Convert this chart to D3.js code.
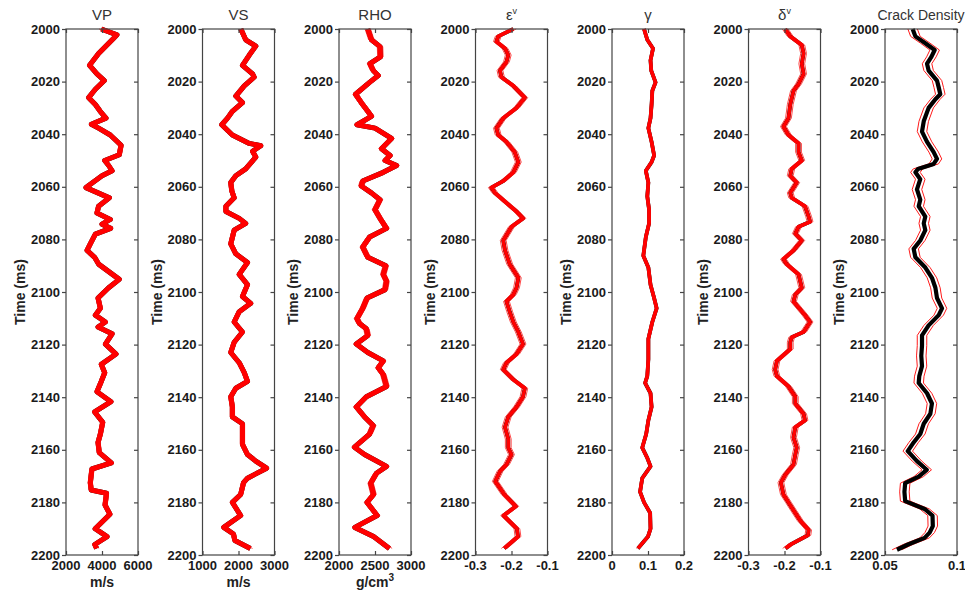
<!DOCTYPE html>
<html>
<head>
<meta charset="utf-8">
<script src="https://cdnjs.cloudflare.com/ajax/libs/d3/7.8.5/d3.min.js"></script>
<style>
    body { margin: 0; background: #fff; }
    #chart { width: 965px; height: 594px; }
    text { font-family: "Liberation Sans", Arial, sans-serif; }
</style>
</head>
<body>
<div id="chart"></div>
<script>
// Data: [time (ms), value]
const vpData = [
    [2000, 3960], [2002.2, 4830], [2003.5, 4650], [2009.3, 3810], [2013.8, 3310], [2017.1, 3720],
    [2019.6, 4130], [2022.9, 3630], [2026.1, 3260], [2028.7, 3630], [2031.3, 3900], [2033.9, 4220],
    [2036.2, 3410], [2037.7, 3810], [2040.3, 4460], [2044.2, 5060], [2047.8, 4960], [2050, 4150],
    [2051.9, 4370], [2053.9, 4560], [2055.8, 4000], [2060.3, 3110], [2064.2, 4410], [2067.4, 3810],
    [2070, 3720], [2072.4, 4460], [2074.2, 4000], [2075.8, 4480], [2078, 3630], [2081.7, 3350],
    [2084.2, 3170], [2086.8, 3590], [2089.4, 3810], [2095.2, 4960], [2098.4, 4370], [2102.3, 3780],
    [2106.2, 3910], [2108.8, 3630], [2111.4, 4190], [2113.3, 3780], [2115.9, 4560], [2119.8, 4190],
    [2123.6, 4780], [2127.5, 3960], [2130.7, 4150], [2134, 3960], [2137.9, 3720], [2141.7, 4500],
    [2145.6, 3590], [2149.5, 4040], [2154, 3910], [2157.2, 3780], [2161.1, 3850], [2165, 4520],
    [2167.3, 3440], [2172.5, 3350], [2175.3, 3400], [2176.5, 4250], [2181, 4170], [2184.5, 4440],
    [2190, 3620], [2193, 4280], [2196, 3600], [2197.5, 3700]
]
const vsData = [
    [2000, 2065], [2004.1, 2200], [2006.5, 2480], [2009.9, 2300], [2013.8, 2110], [2017.1, 2390],
    [2018.3, 2435], [2021.6, 2160], [2025.5, 1925], [2028, 2110], [2031.3, 1830], [2033.9, 1695],
    [2036.4, 1535], [2040.3, 1830], [2043.5, 2300], [2044.4, 2620], [2046.5, 2390], [2048.7, 2480],
    [2053.2, 2200], [2055.8, 1925], [2058.4, 1785], [2061.6, 1815], [2064.2, 1880], [2067.4, 1650],
    [2069.4, 1650], [2072, 2020], [2073.9, 2200], [2076.5, 1880], [2081.7, 1785], [2085.5, 1925],
    [2088.8, 2250], [2093.3, 2020], [2097.2, 2250], [2101.7, 2110], [2104.3, 2340], [2107.5, 2020],
    [2111.4, 1880], [2115.2, 2110], [2119.1, 1880], [2123, 1785], [2126.9, 2020], [2130.7, 2160],
    [2134, 2250], [2136.6, 1925], [2139.8, 1785], [2143.7, 1830], [2147.5, 1830], [2150.1, 2110],
    [2154, 2110], [2157.9, 2110], [2161.8, 2250], [2164.3, 2480], [2167, 2780], [2170.8, 2250],
    [2172.5, 2140], [2177, 2060], [2180, 1830], [2185, 2060], [2189.5, 1590], [2192, 1860],
    [2194.5, 1900], [2197.5, 2330]
]
const rhoData = [
    [2000, 2400], [2004.1, 2450], [2006.7, 2570], [2010.6, 2575], [2013.2, 2430], [2015.8, 2475],
    [2017.7, 2545], [2020.3, 2425], [2024.8, 2230], [2028, 2310], [2031.3, 2400], [2033.2, 2450],
    [2036.4, 2250], [2037.7, 2500], [2041.6, 2730], [2045.5, 2590], [2048.1, 2710], [2050, 2640],
    [2051.9, 2800], [2054.5, 2615], [2057.8, 2330], [2059.7, 2310], [2062.3, 2450], [2064.9, 2570],
    [2068.7, 2500], [2072, 2570], [2075.8, 2660], [2079.1, 2425], [2082.9, 2330], [2086.8, 2400],
    [2090, 2650], [2093.3, 2615], [2095.9, 2660], [2099.1, 2640], [2102.3, 2390], [2106.2, 2330],
    [2110.1, 2250], [2112, 2285], [2114, 2380], [2116.5, 2400], [2119.8, 2240], [2123, 2400],
    [2126.2, 2615], [2128.8, 2545], [2131.4, 2615], [2135.9, 2660], [2139.8, 2380], [2143.7, 2240],
    [2147.5, 2355], [2150.8, 2475], [2154, 2425], [2159, 2215], [2161.8, 2355], [2166.3, 2660],
    [2168.9, 2520], [2172.7, 2440], [2177, 2480], [2180, 2390], [2185, 2530], [2189.5, 2220],
    [2193, 2480], [2197.5, 2700]
]
const epsData = [
    [2000, -0.195], [2002.8, -0.237], [2004.8, -0.242], [2007.4, -0.218], [2009.9, -0.209],
    [2012.5, -0.214], [2015.8, -0.232], [2018.3, -0.228], [2021.6, -0.195], [2026.1, -0.163],
    [2030, -0.186], [2033.9, -0.223], [2037.7, -0.242], [2040.3, -0.237], [2042.9, -0.214],
    [2046.8, -0.191], [2050.6, -0.181], [2054.5, -0.195], [2057.8, -0.223], [2060.3, -0.256],
    [2062.3, -0.246], [2066.1, -0.214], [2069.4, -0.186], [2072, -0.168], [2075.2, -0.2],
    [2080.4, -0.223], [2084.2, -0.218], [2089.4, -0.205], [2094.6, -0.181], [2098.4, -0.186],
    [2101, -0.195], [2103.6, -0.214], [2107.5, -0.205], [2111.4, -0.195], [2115.2, -0.181],
    [2119.8, -0.168], [2123.6, -0.186], [2126.9, -0.214], [2129.5, -0.223], [2133.3, -0.195],
    [2136.6, -0.163], [2139.8, -0.168], [2143.7, -0.186], [2147.5, -0.209], [2151.4, -0.218],
    [2155.9, -0.209], [2159.2, -0.209], [2161.8, -0.2], [2165.6, -0.214], [2168.2, -0.232],
    [2172, -0.245], [2177, -0.22], [2181.5, -0.188], [2185, -0.222], [2190, -0.185],
    [2193, -0.182], [2197.5, -0.22]
]
const gamData = [
    [2000, 0.089], [2004.1, 0.098], [2007.4, 0.114], [2011.9, 0.107], [2015.8, 0.109], [2020.3, 0.121],
    [2023.5, 0.112], [2028.7, 0.110], [2033.9, 0.107], [2037.7, 0.101], [2042.9, 0.110], [2048.1, 0.117],
    [2050.6, 0.110], [2053.9, 0.094], [2058.4, 0.101], [2063.6, 0.098], [2068.7, 0.103], [2073.9, 0.103],
    [2079.1, 0.094], [2086.2, 0.087], [2090.7, 0.101], [2097.2, 0.107], [2102.3, 0.117], [2106.2, 0.124],
    [2111.4, 0.112], [2117.8, 0.101], [2125.6, 0.101], [2132, 0.098], [2134.6, 0.092], [2138.5, 0.107],
    [2143.7, 0.110], [2148.8, 0.101], [2154, 0.095], [2159.2, 0.084], [2163.1, 0.098], [2166.3, 0.107],
    [2170.8, 0.084], [2176, 0.078], [2180, 0.089], [2184, 0.106], [2190, 0.107], [2193, 0.100],
    [2197.5, 0.072]
]
const delData = [
    [2000, -0.198], [2002.8, -0.184], [2006.1, -0.152], [2009.3, -0.147], [2013.2, -0.152],
    [2017.1, -0.147], [2020.9, -0.161], [2023.5, -0.175], [2028.7, -0.184], [2033.9, -0.189],
    [2037.1, -0.203], [2040.3, -0.189], [2043.5, -0.161], [2046.8, -0.161], [2050, -0.152],
    [2053.2, -0.18], [2055.8, -0.184], [2058.4, -0.166], [2062.3, -0.184], [2064.2, -0.18],
    [2067.4, -0.143], [2071.3, -0.133], [2073.3, -0.129], [2075.2, -0.161], [2077.8, -0.17],
    [2080.4, -0.152], [2084.2, -0.175], [2087.5, -0.203], [2089.4, -0.194], [2093.3, -0.161],
    [2098.4, -0.152], [2101, -0.17], [2103.6, -0.175], [2108.8, -0.143], [2111.4, -0.129],
    [2115.2, -0.147], [2117.2, -0.18], [2119.1, -0.184], [2121.7, -0.184], [2126.2, -0.221],
    [2129.5, -0.226], [2132, -0.221], [2135.9, -0.189], [2139.8, -0.17], [2142.4, -0.17],
    [2146.3, -0.147], [2148.8, -0.143], [2151.4, -0.17], [2155.3, -0.175], [2159.2, -0.166],
    [2161.8, -0.17], [2165.6, -0.175], [2169.5, -0.198], [2172.5, -0.21], [2177, -0.203],
    [2180, -0.189], [2183, -0.175], [2187, -0.156], [2190.5, -0.133], [2192.5, -0.135],
    [2196, -0.183], [2197.5, -0.197]
]
const cdData = [
    [2000, 0.0692], [2002.8, 0.0711], [2005.4, 0.078], [2008, 0.0845], [2010.6, 0.0822], [2013.2, 0.0792],
    [2015.8, 0.0803], [2019.6, 0.0861], [2022.2, 0.0873], [2024.8, 0.0884], [2026.7, 0.085], [2030, 0.0803],
    [2035.1, 0.0769], [2039, 0.0757], [2042.9, 0.0792], [2046.8, 0.0838], [2049.4, 0.0861], [2051.3, 0.0838],
    [2053.2, 0.0729], [2054.5, 0.0711], [2057.1, 0.0745], [2061, 0.0722], [2064.9, 0.0745], [2067.4, 0.0734],
    [2071.3, 0.078], [2073.9, 0.0769], [2076.5, 0.078], [2080.4, 0.0745], [2083.6, 0.0699], [2086.8, 0.0711],
    [2090.7, 0.078], [2094.6, 0.0826], [2098.4, 0.085], [2102.3, 0.0861], [2106.2, 0.0896], [2108.8, 0.0873],
    [2112.7, 0.0803], [2116.5, 0.0757], [2120.4, 0.0757], [2124.3, 0.0752], [2128.2, 0.0757], [2132, 0.0738],
    [2134.6, 0.0734], [2138.5, 0.0792], [2142.4, 0.0826], [2146.3, 0.0815], [2150.1, 0.0769], [2154, 0.0745],
    [2157.2, 0.0699], [2160.5, 0.0658], [2164.3, 0.0722], [2167.6, 0.079], [2170.2, 0.0734], [2172.7, 0.064],
    [2176, 0.0635], [2179.5, 0.064], [2182.5, 0.0775], [2185, 0.083], [2189, 0.0832], [2191.5, 0.081],
    [2193.5, 0.0775], [2196, 0.066], [2198, 0.0583]
]

const titles = ['VP', 'VS', 'RHO', 'ε', 'γ', 'δ', 'Crack Density']
const titleSup = ['', '', '', 'v', '', 'v', '']
const xDomains = [[2000, 6000], [1000, 3000], [2000, 3000], [-0.3, -0.1], [0, 0.2], [-0.3, -0.1], [0.05, 0.1]]
const xTicks = [[2000, 4000, 6000], [1000, 2000, 3000], [2000, 2500, 3000], [-0.3, -0.2, -0.1], [0, 0.1, 0.2], [-0.3, -0.2, -0.1], [0.05, 0.1]]
const xUnits = ['m/s', 'm/s', 'g/cm', '', '', '', '']
const xUnitSup = ['', '', '3', '', '', '', '']
// half-width of the red realisation band, per panel
const bandHalf = [120, 60, 38, 0.008, 0.0035, 0.008, 0.0033]
const timeTicks = [2000, 2020, 2040, 2060, 2080, 2100, 2120, 2140, 2160, 2180, 2200]

function draw(){
    const series = [vpData, vsData, rhoData, epsData, gamData, delData, cdData]

    const dimension = {
        width: 965,
        height: 594,
        top: 29,
        bottom: 555,
        firstLeft: 66,
        step: 136.5,
        panelW: 72
    }

    const svg = d3.select('#chart')
        .append('svg')
        .attr('width', dimension.width)
        .attr('height', dimension.height)

    const yScale = d3.scaleLinear()
        .domain([2000, 2200])
        .range([dimension.top, dimension.bottom])

    series.forEach((data, i) => {
        const left = dimension.firstLeft + i * dimension.step
        const xScale = d3.scaleLinear()
            .domain(xDomains[i])
            .range([0, dimension.panelW])

        const ctr = svg.append('g')
            .attr('transform', `translate(${left}, 0)`)

        const line = (shift) => d3.line()
            .x(d => xScale(d[1] + shift))
            .y(d => yScale(d[0]))

        const isCrack = i === 6

        // black true model (under the red for most panels)
        if (!isCrack) {
            ctr.append('path')
                .datum(data)
                .attr('d', line(0))
                .attr('fill', 'none')
                .attr('stroke', '#000')
                .attr('stroke-width', i < 3 ? 5 : 3.8)
                .attr('stroke-linejoin', 'round')
        }

        // red realisations
        ;[-1, 1].forEach(s => {
            ctr.append('path')
                .datum(data)
                .attr('d', line(s * bandHalf[i]))
                .attr('fill', 'none')
                .attr('stroke', '#ff1a1a')
                .attr('stroke-opacity', isCrack ? 1 : 0.8)
                .attr('stroke-width', 1)
                .attr('stroke-linejoin', 'round')
        })
        if (!isCrack) {
            ctr.append('path')
                .datum(data)
                .attr('d', line(0))
                .attr('fill', 'none')
                .attr('stroke', '#ff0000')
                .attr('stroke-width', i < 3 ? 5 : 3.6)
                .attr('stroke-linejoin', 'round')
        } else {
            ctr.append('path')
                .datum(data)
                .attr('d', line(0))
                .attr('fill', 'none')
                .attr('stroke', '#000')
                .attr('stroke-width', 4.2)
                .attr('stroke-linejoin', 'round')
        }

        // axes
        const styleAxis = g => {
            g.select('.domain').remove()
            g.selectAll('line').attr('stroke', '#444').attr('stroke-width', 1.2)
            g.selectAll('text')
                .attr('fill', '#1a1a1a')
                .style('font-size', '13px')
                .style('font-weight', 'bold')
                .style('font-family', '"Liberation Sans", Arial, sans-serif')
        }

        ctr.append('g')
            .call(d3.axisLeft(yScale).tickValues(timeTicks).tickSize(4).tickPadding(2).tickFormat(d3.format('d')))
            .call(styleAxis)

        ctr.append('g')
            .attr('transform', `translate(${dimension.panelW}, 0)`)
            .call(d3.axisLeft(yScale).tickValues(timeTicks).tickSize(4).tickFormat(''))
            .call(styleAxis)

        ctr.append('g')
            .attr('transform', `translate(0, ${dimension.top})`)
            .call(d3.axisBottom(xScale).tickValues(xTicks[i]).tickSize(4).tickFormat(''))
            .call(styleAxis)

        ctr.append('g')
            .attr('transform', `translate(0, ${dimension.bottom})`)
            .call(d3.axisTop(xScale).tickValues(xTicks[i]).tickSize(4).tickFormat(''))
            .call(styleAxis)

        ctr.append('g')
            .selectAll('text')
            .data(xTicks[i])
            .join('text')
            .attr('x', d => xScale(d))
            .attr('y', dimension.bottom + 15)
            .attr('text-anchor', 'middle')
            .attr('fill', '#1a1a1a')
            .style('font-size', '13px')
            .style('font-weight', 'bold')
            .text(d => String(d))

        // box
        ctr.append('rect')
            .attr('x', 0)
            .attr('y', dimension.top)
            .attr('width', dimension.panelW)
            .attr('height', dimension.bottom - dimension.top)
            .attr('fill', 'none')
            .attr('stroke', '#444')
            .attr('stroke-width', 1.2)

        // title
        const title = ctr.append('text')
            .attr('x', dimension.panelW / 2)
            .attr('y', 20)
            .attr('text-anchor', 'middle')
            .attr('fill', '#333')
            .style('font-size', isCrack ? '14px' : '15px')
            .text(titles[i])
        if (titleSup[i]) {
            title.append('tspan')
                .attr('dy', -6)
                .style('font-size', '9px')
                .text(titleSup[i])
        }

        // y label
        ctr.append('text')
            .attr('transform', `translate(-41, ${(dimension.top + dimension.bottom) / 2}) rotate(-90)`)
            .attr('text-anchor', 'middle')
            .attr('fill', '#222')
            .style('font-size', '14px')
            .style('font-weight', 'bold')
            .text('Time (ms)')

        // x unit label
        if (xUnits[i]) {
            const unit = ctr.append('text')
                .attr('x', dimension.panelW / 2)
                .attr('y', 587)
                .attr('text-anchor', 'middle')
                .attr('fill', '#222')
                .style('font-size', '14px')
                .style('font-weight', 'bold')
                .text(xUnits[i])
            if (xUnitSup[i]) {
                unit.append('tspan')
                    .attr('dy', -6)
                    .style('font-size', '10px')
                    .text(xUnitSup[i])
            }
        }
    })
}

draw()
</script>
</body>
</html>
